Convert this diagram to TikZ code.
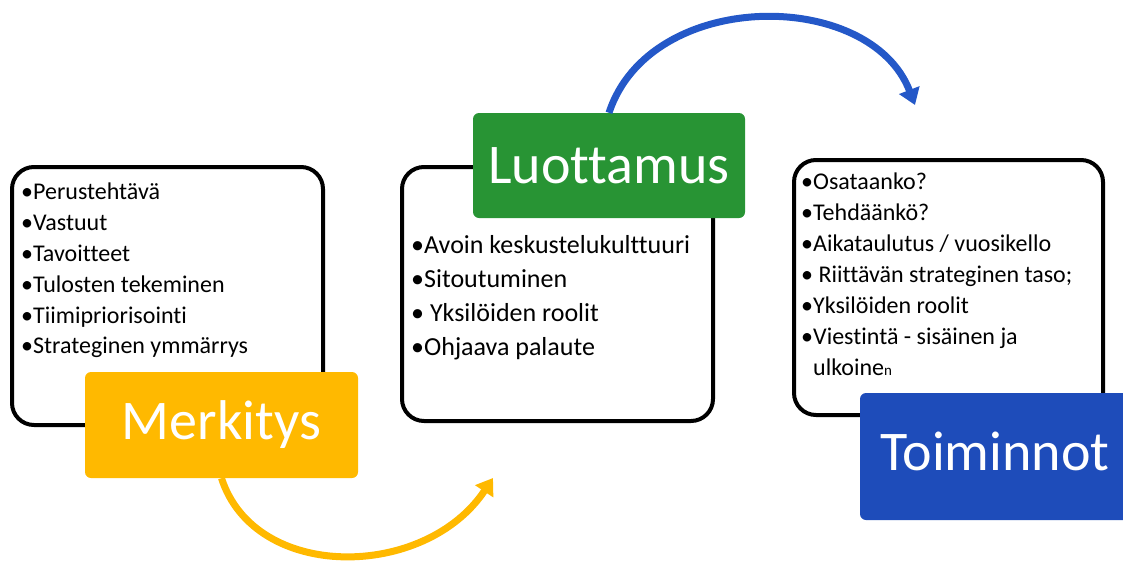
\documentclass[tikz,border=0pt]{standalone}
\usepackage{fontspec}
\setmainfont{Carlito}[Ligatures=NoCommon]
\usetikzlibrary{arrows.meta,positioning}
\definecolor{merkorange}{RGB}{255,185,0}
\definecolor{luotgreen}{RGB}{40,148,52}
\definecolor{toimblue}{RGB}{30,76,186}
\definecolor{arrowblue}{RGB}{36,88,200}

\begin{document}
\begin{tikzpicture}[
  x=1pt, y=-1pt,
  node distance = 12pt and 11pt,
  frame box/.style = {
    draw=black, line width=4pt, rounded corners=22pt, inner sep=0pt
  },
  tag box/.style = {
    rounded corners=6pt, inner sep=0pt, text=white,
    font=\fontsize{56}{60}\selectfont
  },
  item list/.style = {align=left, inner sep=0pt},
  cycle arrow/.style = {line width=7pt, -{Triangle[length=16pt,width=21pt]}},
]
\useasboundingbox (0,0) rectangle (1123,560);

% list frames
\node[frame box, minimum width=311pt, minimum height=258pt] (frame-m) at (167.5,296) {};
\node[frame box, minimum width=311pt, minimum height=254pt] (frame-l) at (557.5,294) {};
\node[frame box, minimum width=309pt, minimum height=255pt] (frame-t) at (948.5,287.5) {};

\node[item list, font=\fontsize{24}{30.8}\selectfont,
  below right=18pt and 11pt of frame-m.north west] (list-m)
  {•Perustehtävä\\ •Vastuut\\ •Tavoitteet\\ •Tulosten tekeminen\\
   •Tiimipriorisointi\\ •Strateginen ymmärrys};

\node[item list, font=\fontsize{26}{34}\selectfont,
  below right=70pt and 11pt of frame-l.north west] (list-l)
  {•Avoin keskustelukulttuuri\\ •Sitoutuminen\\ • Yksilöiden roolit\\
   •Ohjaava palaute};

\node[item list, font=\fontsize{24}{31}\selectfont,
  below right=15pt and 9pt of frame-t.north west] (list-t)
  {•Osataanko?\\ •Tehdäänkö?\\ •Aikataulutus / vuosikello\\
   • Riittävän strateginen taso;\\ •Yksilöiden roolit\\
   •Viestintä - sisäinen ja\\
   \phantom{•}ulkoine{\fontsize{15}{15}\selectfont n}};

% coloured tags
\node[tag box, fill=merkorange, minimum width=273pt, minimum height=106pt]
  (merk) at (221.5,425) {Merkitys};
\node[tag box, fill=luotgreen, minimum width=272pt, minimum height=105pt]
  (luot) at (609,165.5) {Luottamus};
\node[tag box, fill=toimblue, minimum width=270pt, minimum height=127pt]
  (toim) at (995,456.5) {\raisebox{10pt}{Toiminnot}};

% cycle arrows
\coordinate (orange-tip) at (493,478);
\coordinate (blue-tip) at (915,105);

\draw[cycle arrow, merkorange] (merk.south) .. controls (255,582) and (425,580) .. (orange-tip);
\draw[cycle arrow, arrowblue] (luot.north) .. controls (650,-12) and (870,-12) .. (blue-tip);

\end{tikzpicture}
\end{document}
